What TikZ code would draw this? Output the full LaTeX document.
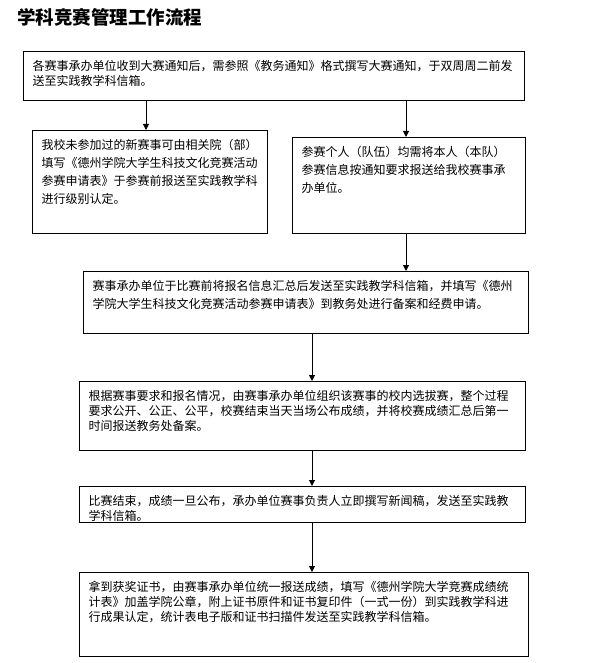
\documentclass[tikz,border=0pt]{standalone}
\usepackage{fontspec}
\setmainfont{Noto Sans CJK SC}
\usetikzlibrary{positioning,arrows.meta}

\begin{document}
\begin{tikzpicture}[
				x=1pt, y=-1pt,
				stage/.style={rectangle, draw=black, line width=1pt, anchor=north west, align=left,
					inner xsep=9pt, inner ysep=6pt, text height=13pt},
				loose/.style={font=\fontsize{12}{18}\selectfont},
				tight/.style={font=\fontsize{12}{15}\selectfont},
				heading/.style={rectangle, anchor=west, inner sep=0pt, font=\bfseries\fontsize{18.5}{20}\selectfont}
			]
			\useasboundingbox (0,0) rectangle (593,663);
			\node[heading] (title) at (17,17) {学科竞赛管理工作流程};
			\node[stage, tight, text width=483pt, text depth=24pt] (notice) at (23,51)
				{各赛事承办单位收到大赛通知后，需参照《教务通知》格式撰写大赛通知，于双周周二前发\\送至实践教学科信箱。};
			\node[stage, loose, text width=217pt, text depth=78pt] (newcomp) at (32,130)
				{我校未参加过的新赛事可由相关院（部）\\填写《德州学院大学生科技文化竞赛活动\\参赛申请表》于参赛前报送至实践教学科\\进行级别认定。};
			\node[stage, loose, text width=215pt, text depth=71pt] (entrants) at (292,137)
				{参赛个人（队伍）均需将本人（本队）\\参赛信息按通知要求报送给我校赛事承\\办单位。};
			\node[stage, loose, text width=427pt, text depth=37pt] (register) at (83,271)
				{赛事承办单位于比赛前将报名信息汇总后发送至实践教学科信箱，并填写《德州\\学院大学生科技文化竞赛活动参赛申请表》到教务处进行备案和经费申请。};
			\node[stage, tight, text width=428pt, text depth=44pt] (selection) [below=47pt of register.south west, anchor=north west, xshift=-4pt]
				{根据赛事要求和报名情况，由赛事承办单位组织该赛事的校内选拔赛，整个过程\\要求公开、公正、公平，校赛结束当天当场公布成绩，并将校赛成绩汇总后第一\\时间报送教务处备案。};
			\node[stage, tight, text width=428pt, text depth=11pt] (news) [below=35pt of selection.south west, anchor=north west]
				{比赛结束，成绩一旦公布，承办单位赛事负责人立即撰写新闻稿，发送至实践教\\学科信箱。};
			\node[stage, tight, text width=431pt, text depth=59pt] (results) [below=49pt of news.south west, anchor=north west]
				{拿到获奖证书，由赛事承办单位统一报送成绩，填写《德州学院大学竞赛成绩统\\计表》加盖学院公章，附上证书原件和证书复印件（一式一份）到实践教学科进\\行成果认定，统计表电子版和证书扫描件发送至实践教学科信箱。};
			\coordinate (leftlane) at (146,0);
			\coordinate (rightlane) at (406,0);
			\coordinate (spine) at (312,0);
			\begin{scope}[line width=1pt, -{Triangle[width=6pt,length=6pt]}]
			\draw (notice.south -| leftlane) -- (newcomp.north -| leftlane);
			\draw (notice.south -| rightlane) -- (entrants.north -| rightlane);
			\draw (entrants.south -| rightlane) -- (register.north -| rightlane);
			\draw (register.south -| spine) -- (selection.north -| spine);
			\draw (selection.south -| spine) -- (news.north -| spine);
			\draw (news.south -| spine) -- (results.north -| spine);
			\end{scope}
			\end{tikzpicture}
\end{document}
